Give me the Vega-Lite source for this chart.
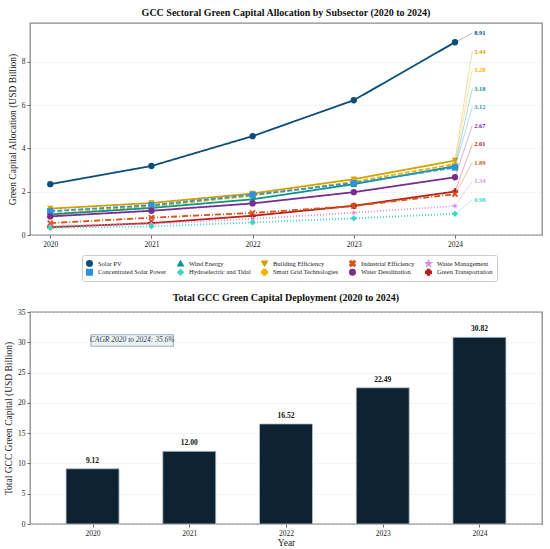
{
  "$schema": "https://vega.github.io/schema/vega-lite/v6.json",
  "padding": {"left": 2, "right": 5, "top": 7, "bottom": 0},
  "background": "white",
  "config": {
    "font": "Liberation Serif",
    "view": {"stroke": "#8a8a8a", "strokeWidth": 1.3},
    "title": {"font": "Liberation Serif", "fontSize": 10, "fontWeight": "bold", "color": "#111", "offset": 5},
    "axis": {"labelFont": "Liberation Serif", "titleFont": "Liberation Serif", "labelFontSize": 7.5, "titleFontSize": 9.5, "titleFontWeight": "normal", "labelColor": "#222222", "titleColor": "#222222", "domain": false, "tickColor": "#666666", "tickSize": 3, "labelPadding": 2, "labelOverlap": false, "gridColor": "#dddddd", "gridDash": [2, 2], "gridWidth": 0.6},
    "legend": {"labelFont": "Liberation Serif", "labelFontSize": 6.5, "labelColor": "#222222"}
  },
  "resolve": {"legend": {"color": "independent", "shape": "independent"}},
  "datasets": {
    "sectors": [
      {"year": 2020, "sector": "Solar PV", "value": 2.35},
      {"year": 2021, "sector": "Solar PV", "value": 3.19},
      {"year": 2022, "sector": "Solar PV", "value": 4.57},
      {"year": 2023, "sector": "Solar PV", "value": 6.23},
      {"year": 2024, "sector": "Solar PV", "value": 8.91},
      {"year": 2020, "sector": "Building Efficiency", "value": 1.22},
      {"year": 2021, "sector": "Building Efficiency", "value": 1.48},
      {"year": 2022, "sector": "Building Efficiency", "value": 1.92},
      {"year": 2023, "sector": "Building Efficiency", "value": 2.58},
      {"year": 2024, "sector": "Building Efficiency", "value": 3.44},
      {"year": 2020, "sector": "Smart Grid Technologies", "value": 0.98},
      {"year": 2021, "sector": "Smart Grid Technologies", "value": 1.32},
      {"year": 2022, "sector": "Smart Grid Technologies", "value": 1.82},
      {"year": 2023, "sector": "Smart Grid Technologies", "value": 2.46},
      {"year": 2024, "sector": "Smart Grid Technologies", "value": 3.28},
      {"year": 2020, "sector": "Wind Energy", "value": 0.95},
      {"year": 2021, "sector": "Wind Energy", "value": 1.25},
      {"year": 2022, "sector": "Wind Energy", "value": 1.65},
      {"year": 2023, "sector": "Wind Energy", "value": 2.35},
      {"year": 2024, "sector": "Wind Energy", "value": 3.18},
      {"year": 2020, "sector": "Concentrated Solar Power", "value": 1.10},
      {"year": 2021, "sector": "Concentrated Solar Power", "value": 1.38},
      {"year": 2022, "sector": "Concentrated Solar Power", "value": 1.86},
      {"year": 2023, "sector": "Concentrated Solar Power", "value": 2.40},
      {"year": 2024, "sector": "Concentrated Solar Power", "value": 3.12},
      {"year": 2020, "sector": "Water Desalination", "value": 0.86},
      {"year": 2021, "sector": "Water Desalination", "value": 1.12},
      {"year": 2022, "sector": "Water Desalination", "value": 1.46},
      {"year": 2023, "sector": "Water Desalination", "value": 1.98},
      {"year": 2024, "sector": "Water Desalination", "value": 2.67},
      {"year": 2020, "sector": "Green Transportation", "value": 0.36},
      {"year": 2021, "sector": "Green Transportation", "value": 0.55},
      {"year": 2022, "sector": "Green Transportation", "value": 0.89},
      {"year": 2023, "sector": "Green Transportation", "value": 1.35},
      {"year": 2024, "sector": "Green Transportation", "value": 2.01},
      {"year": 2020, "sector": "Industrial Efficiency", "value": 0.55},
      {"year": 2021, "sector": "Industrial Efficiency", "value": 0.80},
      {"year": 2022, "sector": "Industrial Efficiency", "value": 1.02},
      {"year": 2023, "sector": "Industrial Efficiency", "value": 1.34},
      {"year": 2024, "sector": "Industrial Efficiency", "value": 1.89},
      {"year": 2020, "sector": "Waste Management", "value": 0.42},
      {"year": 2021, "sector": "Waste Management", "value": 0.51},
      {"year": 2022, "sector": "Waste Management", "value": 0.75},
      {"year": 2023, "sector": "Waste Management", "value": 1.03},
      {"year": 2024, "sector": "Waste Management", "value": 1.34},
      {"year": 2020, "sector": "Hydroelectric and Tidal", "value": 0.33},
      {"year": 2021, "sector": "Hydroelectric and Tidal", "value": 0.40},
      {"year": 2022, "sector": "Hydroelectric and Tidal", "value": 0.58},
      {"year": 2023, "sector": "Hydroelectric and Tidal", "value": 0.77},
      {"year": 2024, "sector": "Hydroelectric and Tidal", "value": 0.98}
    ],
    "totals": [
      {"year": 2020, "total": 9.12},
      {"year": 2021, "total": 12.00},
      {"year": 2022, "total": 16.52},
      {"year": 2023, "total": 22.49},
      {"year": 2024, "total": 30.82}
    ],
    "note": [
      {"year": 2020.41, "total": 30.3, "text": "CAGR 2020 to 2024: 35.6%"}
    ]
  },
  "spacing": 9,
  "vconcat": [
    {
      "title": "GCC Sectoral Green Capital Allocation by Subsector (2020 to 2024)",
      "width": 512,
      "height": 212,
      "data": {"name": "sectors"},
      "layer": [
        {
          "mark": {"type": "line", "strokeWidth": 1.8},
          "encoding": {
            "x": {"field": "year", "type": "quantitative", "scale": {"domain": [2019.8, 2024.86], "nice": false, "zero": false}, "axis": {"values": [2020, 2021, 2022, 2023, 2024], "format": "d", "title": null, "grid": false}},
            "y": {"field": "value", "type": "quantitative", "scale": {"domain": [0, 9.8], "nice": false}, "axis": {"values": [0, 2, 4, 6, 8], "title": "Green Capital Allocation (USD Billion)", "titlePadding": 4}},
            "color": {"field": "sector", "type": "nominal", "scale": {
              "domain": ["Solar PV", "Wind Energy", "Building Efficiency", "Industrial Efficiency", "Waste Management", "Concentrated Solar Power", "Hydroelectric and Tidal", "Smart Grid Technologies", "Water Desalination", "Green Transportation"],
              "range": ["#0b4f79", "#0e9688", "#d4a000", "#d95319", "#d68fe0", "#2e93d9", "#3dd6c2", "#f0b400", "#7b2d8e", "#b52218"]}},
            "strokeDash": {"field": "sector", "type": "nominal", "scale": {
              "domain": ["Solar PV", "Wind Energy", "Building Efficiency", "Industrial Efficiency", "Waste Management", "Concentrated Solar Power", "Hydroelectric and Tidal", "Smart Grid Technologies", "Water Desalination", "Green Transportation"],
              "range": [[1, 0], [1, 0], [1, 0], [6, 2, 1, 2], [1, 2], [5, 2], [1, 2], [5, 2], [1, 0], [1, 0]]},
              "legend": null}
          }
        },
        {
          "mark": {"type": "point", "filled": true, "size": 40, "opacity": 1},
          "encoding": {
            "x": {"field": "year", "type": "quantitative"},
            "y": {"field": "value", "type": "quantitative"},
            "color": {"field": "sector", "type": "nominal", "legend": {
              "orient": "none", "legendX": 52, "legendY": 232, "direction": "horizontal", "columns": 5, "title": null,
              "fillColor": "white", "strokeColor": "#cccccc", "padding": 4, "cornerRadius": 2,
              "symbolSize": 30, "columnPadding": 10, "rowPadding": 0, "labelOffset": 5, "clipHeight": 8.5, "labelLimit": 200}},
            "shape": {"field": "sector", "type": "nominal", "scale": {
              "domain": ["Solar PV", "Wind Energy", "Building Efficiency", "Industrial Efficiency", "Waste Management", "Concentrated Solar Power", "Hydroelectric and Tidal", "Smart Grid Technologies", "Water Desalination", "Green Transportation"],
              "range": ["circle", "triangle-up", "triangle-down", "M-1,-0.6L-0.6,-1L0,-0.4L0.6,-1L1,-0.6L0.4,0L1,0.6L0.6,1L0,0.4L-0.6,1L-1,0.6L-0.4,0Z", "M0,-1L0.225,-0.309L0.951,-0.309L0.363,0.118L0.588,0.809L0,0.382L-0.588,0.809L-0.363,0.118L-0.951,-0.309L-0.225,-0.309Z", "square", "diamond", "cross", "circle", "cross"]},
              "legend": {
              "orient": "none", "legendX": 52, "legendY": 232, "direction": "horizontal", "columns": 5, "title": null,
              "fillColor": "white", "strokeColor": "#cccccc", "padding": 4, "cornerRadius": 2,
              "symbolSize": 30, "columnPadding": 10, "rowPadding": 0, "labelOffset": 5, "clipHeight": 8.5, "labelLimit": 200}}
          }
        },
        {
          "transform": [
            {"filter": "datum.year == 2024"},
            {"window": [{"op": "row_number", "as": "rank"}], "sort": [{"field": "value", "order": "descending"}]},
            {"calculate": "9.32 - (datum.rank - 1) * 0.855", "as": "labelY"}
          ],
          "layer": [
            {
              "mark": {"type": "rule", "strokeWidth": 0.8, "opacity": 0.45},
              "encoding": {
                "x": {"field": "year", "type": "quantitative"},
                "y": {"field": "value", "type": "quantitative"},
                "x2": {"datum": 2024.17},
                "y2": {"field": "labelY"},
                "color": {"field": "sector", "type": "nominal"}
              }
            },
            {
              "mark": {"type": "text", "fontSize": 6.5, "fontWeight": "bold", "align": "left", "baseline": "middle", "dx": 2},
              "encoding": {
                "x": {"datum": 2024.17},
                "y": {"field": "labelY", "type": "quantitative"},
                "text": {"field": "value", "type": "quantitative", "format": ".2f"},
                "color": {"field": "sector", "type": "nominal"}
              }
            }
          ]
        }
      ]
    },
    {
      "title": "Total GCC Green Capital Deployment (2020 to 2024)",
      "width": 512,
      "height": 212,
      "encoding": {
        "x": {"field": "year", "type": "quantitative", "scale": {"domain": [2019.405, 2024.595], "nice": false, "zero": false}, "axis": {"values": [2020, 2021, 2022, 2023, 2024], "format": "d", "title": "Year", "grid": false, "titlePadding": 1}},
        "y": {"field": "total", "type": "quantitative", "scale": {"domain": [0, 35], "nice": false}, "axis": {"tickCount": 7, "labelOverlap": false, "title": "Total GCC Green Capital (USD Billion)", "titlePadding": 4}}
      },
      "layer": [
        {
          "data": {"name": "totals"},
          "mark": {"type": "bar", "size": 53, "color": "#0f2232", "stroke": "#b8c4cc", "strokeWidth": 0.8}
        },
        {
          "data": {"name": "totals"},
          "mark": {"type": "text", "fontSize": 7.5, "fontWeight": "bold", "dy": -8, "color": "#111111"},
          "encoding": {
            "text": {"field": "total", "type": "quantitative", "format": ".2f"}
          }
        },
        {
          "data": {"name": "note"},
          "mark": {"type": "point", "filled": true, "fill": "#eef1f3", "stroke": "#8a9aa6", "strokeWidth": 0.8, "opacity": 1, "size": 6800, "shape": "M-1,-0.14L1,-0.14L1,0.14L-1,0.14Z"}
        },
        {
          "data": {"name": "note"},
          "mark": {"type": "text", "fontSize": 7.5, "fontStyle": "italic", "color": "#334455"},
          "encoding": {
            "text": {"field": "text"}
          }
        }
      ]
    }
  ]
}
